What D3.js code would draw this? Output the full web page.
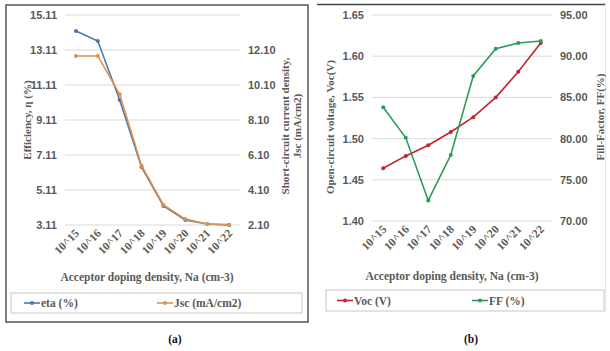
<!DOCTYPE html>
<html>
<head>
<meta charset="utf-8">
<script src="https://cdn.jsdelivr.net/npm/d3@7"></script>
<style>
  body { margin: 0; background: #fff; }
  svg { display: block; font-family: "Liberation Serif", "Times New Roman", serif; font-weight: bold; }
</style>
</head>
<body>
<div id="chart"></div>
<script>
// Data
const dopingLevels = ['10^15', '10^16', '10^17', '10^18', '10^19', '10^20', '10^21', '10^22'];

// Panel (a)
const etaValues = [14.20, 13.62, 10.25, 6.42, 4.20, 3.40, 3.17, 3.11];
const jscValues = [11.76, 11.76, 9.57, 5.49, 3.25, 2.44, 2.16, 2.12];
const etaTicks = [3.11, 5.11, 7.11, 9.11, 11.11, 13.11, 15.11];
const jscTicks = [2.10, 4.10, 6.10, 8.10, 10.10, 12.10];

// Panel (b)
const vocValues = [1.464, 1.479, 1.492, 1.508, 1.526, 1.550, 1.581, 1.616];
const ffValues = [83.8, 80.1, 72.5, 78.0, 87.6, 90.9, 91.6, 91.85];
const vocTicks = [1.40, 1.45, 1.50, 1.55, 1.60, 1.65];
const ffTicks = [70, 75, 80, 85, 90, 95];

const W = 610, H = 351;
const labelColor = '#595959';
const gridColor = '#d9d9d9';

const svg = d3.select('#chart').append('svg')
    .attr('width', W)
    .attr('height', H);

// panel (a) frame
svg.append('rect')
    .attr('x', 6).attr('y', 5).attr('width', 302).attr('height', 317)
    .attr('fill', 'none').attr('stroke', '#555').attr('stroke-width', 1.5);

// panel (b) frame: only the top edge is dark, right edge faint
svg.append('line')
    .attr('x1', 317).attr('x2', 606).attr('y1', 4.5).attr('y2', 4.5)
    .attr('stroke', '#444').attr('stroke-width', 1.3);
svg.append('line')
    .attr('x1', 605.5).attr('x2', 605.5).attr('y1', 4).attr('y2', 312)
    .attr('stroke', '#e6e6e6');

function drawPanel(p) {
    const g = svg.append('g');

    const x = d3.scalePoint().domain(dopingLevels).range(p.xRange).padding(0.5);
    const yL = d3.scaleLinear().domain(p.leftDomain).range([p.yBottom, p.yTop]);
    const yR = d3.scaleLinear().domain(p.rightDomain).range([p.yBottom, p.yTop]);

    // gridlines
    g.append('g').selectAll('line')
        .data(p.leftTicks)
        .join('line')
        .attr('x1', p.xRange[0]).attr('x2', p.xRange[1])
        .attr('y1', d => yL(d)).attr('y2', d => yL(d))
        .attr('stroke', gridColor).attr('stroke-width', 1);

    // left axis
    const axL = g.append('g')
        .attr('transform', `translate(${p.xRange[0] - 3},0)`)
        .call(d3.axisLeft(yL).tickValues(p.leftTicks).tickFormat(d3.format(p.leftFormat)).tickSize(0).tickPadding(5));
    axL.select('.domain').remove();
    axL.selectAll('text').attr('fill', labelColor).style('font-size', '11px').style('font-family', null);

    // right axis
    const axR = g.append('g')
        .attr('transform', `translate(${p.xRange[1] + 3},0)`)
        .call(d3.axisRight(yR).tickValues(p.rightTicks).tickFormat(d3.format(p.rightFormat)).tickSize(0).tickPadding(5));
    axR.select('.domain').remove();
    axR.selectAll('text').attr('fill', labelColor).style('font-size', '11px').style('font-family', null);

    // category labels, rotated
    g.append('g').selectAll('text')
        .data(dopingLevels)
        .join('text')
        .attr('transform', d => `translate(${x(d) + 4},${p.yBottom + 9}) rotate(-45)`)
        .attr('text-anchor', 'end')
        .attr('fill', labelColor)
        .style('font-size', '11.5px')
        .text(d => d);

    // series
    p.series.forEach(s => {
        const y = s.axis === 'left' ? yL : yR;
        const line = d3.line().x((d, i) => x(dopingLevels[i])).y(d => y(d));
        g.append('path')
            .datum(s.values)
            .attr('d', line)
            .attr('fill', 'none')
            .attr('stroke', s.color)
            .attr('stroke-width', 1.6);
        g.append('g').selectAll('circle')
            .data(s.values)
            .join('circle')
            .attr('cx', (d, i) => x(dopingLevels[i]))
            .attr('cy', d => y(d))
            .attr('r', 2)
            .attr('fill', s.color);
    });

    // axis titles
    g.append('text')
        .attr('transform', `translate(${p.leftTitleX},${p.leftTitleY}) rotate(-90)`)
        .attr('text-anchor', 'middle')
        .attr('fill', labelColor)
        .style('font-size', '11px')
        .text(p.leftTitle);

    p.rightTitle.forEach((t, i) => {
        g.append('text')
            .attr('transform', `translate(${p.rightTitleX + i * 12},${p.rightTitleY}) rotate(-90)`)
            .attr('text-anchor', 'middle')
            .attr('fill', labelColor)
            .style('font-size', '11px')
            .text(t);
    });

    g.append('text')
        .attr('x', p.xTitleX).attr('y', p.xTitleY)
        .attr('text-anchor', 'middle')
        .attr('fill', labelColor)
        .style('font-size', '11.5px')
        .text('Acceptor doping density, Na (cm-3)');

    // legend box
    g.append('rect')
        .attr('x', p.legend.x).attr('y', p.legend.y)
        .attr('width', p.legend.w).attr('height', p.legend.h)
        .attr('fill', 'none').attr('stroke', '#c8c8c8');

    p.series.forEach((s, i) => {
        const lx = p.legend.items[i];
        const ly = p.legend.y + p.legend.h / 2;
        g.append('line')
            .attr('x1', lx).attr('x2', lx + 16).attr('y1', ly).attr('y2', ly)
            .attr('stroke', s.color).attr('stroke-width', 1.6);
        g.append('circle').attr('cx', lx + 8).attr('cy', ly).attr('r', 2).attr('fill', s.color);
        g.append('text')
            .attr('x', lx + 17).attr('y', ly + 4)
            .attr('fill', labelColor)
            .style('font-size', '11.5px')
            .text(s.name);
    });

    // caption
    g.append('text')
        .attr('x', p.captionX).attr('y', 343)
        .attr('text-anchor', 'middle')
        .attr('fill', '#111')
        .style('font-size', '11.5px')
        .text(p.caption);
}

drawPanel({
    xRange: [65, 240], yTop: 15, yBottom: 225,
    leftDomain: [3.11, 15.11], rightDomain: [2.10, 14.10],
    leftTicks: etaTicks, rightTicks: jscTicks,
    leftFormat: '.2f', rightFormat: '.2f',
    series: [
        { name: 'eta (%)', values: etaValues, axis: 'left', color: '#4a78ad' },
        { name: 'Jsc (mA/cm2)', values: jscValues, axis: 'right', color: '#dc9250' }
    ],
    leftTitle: 'Efficiency,  η (%)', leftTitleX: 31, leftTitleY: 120,
    rightTitle: ['Short-circuit current density,', 'Jsc (mA/cm2)'], rightTitleX: 289, rightTitleY: 126,
    xTitleX: 147, xTitleY: 281,
    legend: { x: 11, y: 293, w: 291, h: 20, items: [24, 157] },
    caption: '(a)', captionX: 175
});

drawPanel({
    xRange: [372, 552], yTop: 15, yBottom: 221,
    leftDomain: [1.40, 1.65], rightDomain: [70, 95],
    leftTicks: vocTicks, rightTicks: ffTicks,
    leftFormat: '.2f', rightFormat: '.2f',
    series: [
        { name: 'Voc (V)', values: vocValues, axis: 'left', color: '#c0262e' },
        { name: 'FF (%)', values: ffValues, axis: 'right', color: '#2e9a5c' }
    ],
    leftTitle: 'Open-circuit voltage, Voc(V)', leftTitleX: 334, leftTitleY: 127,
    rightTitle: ['Fill-Factor, FF(%)'], rightTitleX: 604, rightTitleY: 117,
    xTitleX: 452, xTitleY: 280,
    legend: { x: 326, y: 290, w: 278, h: 21, items: [337, 472] },
    caption: '(b)', captionX: 471
});
</script>
</body>
</html>
